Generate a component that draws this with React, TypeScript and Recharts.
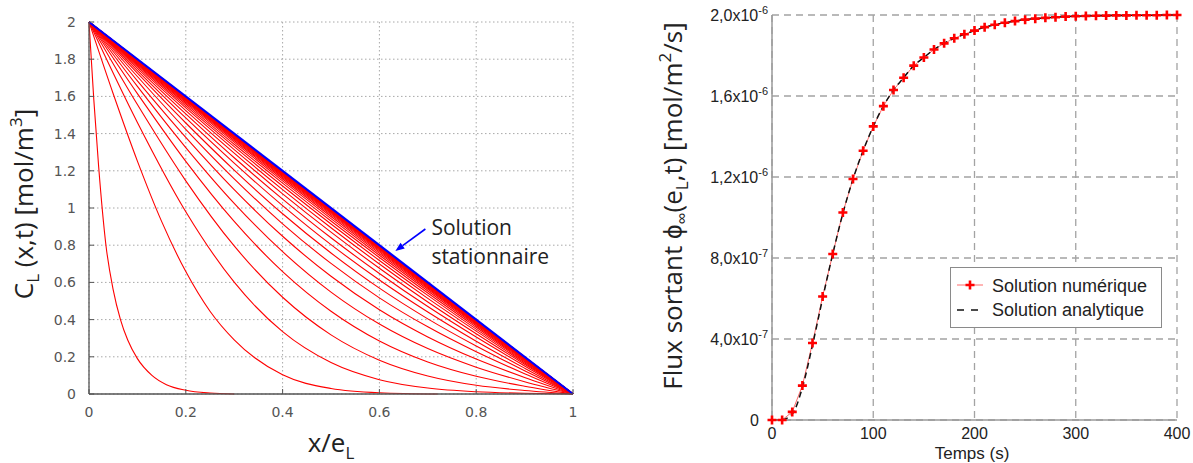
import React from "react";
import { CartesianGrid, Line, LineChart, ReferenceLine, XAxis, YAxis } from "recharts";

// ---- left panel: concentration profiles C_L(x,t) across the membrane ----
const xTicks = [0, 0.2, 0.4, 0.6, 0.8, 1];
const xTickLabels = ["0", "0.2", "0.4", "0.6", "0.8", "1"];
const cTicks = [0, 0.2, 0.4, 0.6, 0.8, 1, 1.2, 1.4, 1.6, 1.8, 2];
const cTickLabels = ["0", "0.2", "0.4", "0.6", "0.8", "1", "1.2", "1.4", "1.6", "1.8", "2"];

// first two profiles have their own x sampling (steep near the entry face)
const firstProfileX = [0, 0.01, 0.02, 0.035, 0.05, 0.065, 0.08, 0.1, 0.13, 0.16, 0.2, 0.25, 0.3];
const firstProfileC = [2, 1.58, 1.22, 0.8, 0.56, 0.4, 0.29, 0.19, 0.1, 0.05, 0.02, 0.005, 0];
const secondProfileX = [0, 0.05, 0.1, 0.15, 0.2, 0.25, 0.3, 0.4, 0.5, 0.6, 0.72];
const secondProfileC = [2, 1.614, 1.252, 0.928, 0.658, 0.445, 0.291, 0.103, 0.03, 0.007, 0];

// later profiles, all read at x = 0, 0.1, ... 1
const profileX = [0, 0.1, 0.2, 0.3, 0.4, 0.5, 0.6, 0.7, 0.8, 0.9, 1];
const laterProfiles = [
  [2, 1.46, 0.98, 0.601, 0.335, 0.169, 0.077, 0.032, 0.012, 0.004, 0],
  [2, 1.556, 1.146, 0.796, 0.52, 0.318, 0.182, 0.097, 0.047, 0.019, 0],
  [2, 1.615, 1.251, 0.928, 0.658, 0.445, 0.285, 0.172, 0.095, 0.042, 0],
  [2, 1.654, 1.325, 1.025, 0.765, 0.548, 0.376, 0.244, 0.144, 0.066, 0],
  [2, 1.684, 1.38, 1.099, 0.848, 0.633, 0.453, 0.307, 0.188, 0.089, 0],
  [2, 1.707, 1.423, 1.157, 0.915, 0.702, 0.517, 0.361, 0.227, 0.109, 0],
  [2, 1.725, 1.457, 1.204, 0.969, 0.758, 0.569, 0.404, 0.258, 0.125, 0],
  [2, 1.739, 1.484, 1.241, 1.013, 0.803, 0.613, 0.441, 0.284, 0.139, 0],
  [2, 1.751, 1.506, 1.27, 1.048, 0.84, 0.648, 0.47, 0.306, 0.151, 0],
  [2, 1.76, 1.524, 1.295, 1.076, 0.87, 0.676, 0.495, 0.324, 0.16, 0],
  [2, 1.767, 1.538, 1.314, 1.099, 0.894, 0.699, 0.514, 0.338, 0.167, 0],
  [2, 1.773, 1.549, 1.33, 1.118, 0.914, 0.718, 0.53, 0.349, 0.173, 0],
  [2, 1.778, 1.559, 1.343, 1.134, 0.93, 0.734, 0.543, 0.359, 0.178, 0],
  [2, 1.782, 1.567, 1.354, 1.146, 0.943, 0.746, 0.554, 0.367, 0.182, 0],
  [2, 1.786, 1.573, 1.363, 1.156, 0.954, 0.756, 0.563, 0.373, 0.186, 0],
  [2, 1.788, 1.578, 1.37, 1.164, 0.963, 0.764, 0.57, 0.378, 0.188, 0],
  [2, 1.791, 1.582, 1.375, 1.171, 0.97, 0.771, 0.575, 0.382, 0.191, 0],
  [2, 1.792, 1.585, 1.38, 1.176, 0.975, 0.776, 0.58, 0.385, 0.192, 0],
  [2, 1.794, 1.588, 1.384, 1.181, 0.98, 0.781, 0.584, 0.388, 0.194, 0],
  [2, 1.795, 1.59, 1.387, 1.184, 0.984, 0.784, 0.587, 0.39, 0.195, 0],
  [2, 1.796, 1.592, 1.389, 1.187, 0.987, 0.787, 0.589, 0.392, 0.196, 0],
  [2, 1.797, 1.594, 1.391, 1.19, 0.989, 0.79, 0.591, 0.394, 0.197, 0],
  [2, 1.797, 1.595, 1.393, 1.192, 0.991, 0.792, 0.593, 0.395, 0.197, 0],
  [2, 1.798, 1.596, 1.394, 1.193, 0.993, 0.793, 0.594, 0.396, 0.198, 0],
  [2, 1.798, 1.597, 1.395, 1.194, 0.994, 0.794, 0.595, 0.397, 0.198, 0],
  [2, 1.799, 1.597, 1.396, 1.196, 0.995, 0.796, 0.596, 0.397, 0.199, 0],
  [2, 1.799, 1.598, 1.397, 1.196, 0.996, 0.796, 0.597, 0.398, 0.199, 0],
  [2, 1.799, 1.598, 1.397, 1.197, 0.997, 0.797, 0.597, 0.398, 0.199, 0],
];
const steadyX = [0, 1];
const steadyC = [2, 0];
const arrowFrom = { x: 0.695, y: 0.887 };
const arrowTo = { x: 0.633, y: 0.769 };

// ---- right panel: outgoing flux vs time (values in 1e-6 mol/m2/s) ----
const times = [
  0, 10, 20, 30, 40, 50, 60, 70, 80, 90, 100, 110, 120, 130, 140, 150, 160, 170, 180, 190, 200,
  210, 220, 230, 240, 250, 260, 270, 280, 290, 300, 310, 320, 330, 340, 350, 360, 370, 380, 390, 400,
];
const fluxNumeric = [
  0, 0, 0.04, 0.17, 0.38, 0.61, 0.82, 1.025, 1.19, 1.33, 1.45, 1.55, 1.63, 1.69, 1.75, 1.79, 1.83,
  1.86, 1.885, 1.905, 1.923, 1.94, 1.952, 1.962, 1.97, 1.977, 1.982, 1.986, 1.989, 1.992, 1.994,
  1.995, 1.996, 1.997, 1.998, 1.998, 1.999, 1.999, 1.999, 2.0, 2.0,
];
const fluxAnalytic = [
  0, 0.002, 0.03, 0.16, 0.37, 0.6, 0.82, 1.02, 1.19, 1.33, 1.45, 1.55, 1.63, 1.69, 1.75, 1.79, 1.83,
  1.86, 1.885, 1.905, 1.923, 1.94, 1.952, 1.962, 1.97, 1.977, 1.982, 1.986, 1.989, 1.992, 1.994,
  1.995, 1.996, 1.997, 1.998, 1.998, 1.999, 1.999, 1.999, 2.0, 2.0,
];
const timeTicks = [0, 100, 200, 300, 400];
const fluxTicks = [0, 0.4, 0.8, 1.2, 1.6, 2.0];
const fluxTickMantissa = ["0", "4,0x10", "8,0x10", "1,2x10", "1,6x10", "2,0x10"];
const fluxTickExponent = ["", "-7", "-7", "-6", "-6", "-6"];

const zip = (xs: number[], ys: number[]) => xs.map((x, i) => ({ x, y: ys[i] }));

const profiles = [
  zip(firstProfileX, firstProfileC),
  zip(secondProfileX, secondProfileC),
  ...laterProfiles.map((p) => zip(profileX, p)),
];
const steady = zip(steadyX, steadyC);
const fluxRows = times.map((t, i) => ({ t, num: fluxNumeric[i], ana: fluxAnalytic[i] }));

const GNU = "'DejaVu Sans', sans-serif";
const ARIAL = "'Liberation Sans', Arial, sans-serif";
const TITLE = "'Open Sans', sans-serif";
const FRAME = "#555";

function LeftXTick(props: any) {
  const { x, y, payload } = props;
  const label = xTickLabels[xTicks.indexOf(payload.value)];
  return (
    <g>
      <line x1={x} x2={x} y1={y} y2={y - 5} stroke={FRAME} />
      <text x={x} y={y + 18} dy="0.35em" textAnchor="middle" fill="#555" fontSize={14} fontFamily={GNU}>
        {label}
      </text>
    </g>
  );
}

function LeftYTick(props: any) {
  const { x, y, payload } = props;
  const label = cTickLabels[cTicks.findIndex((v) => Math.abs(v - payload.value) < 1e-9)];
  return (
    <g>
      <line x1={x} x2={x + 5} y1={y} y2={y} stroke={FRAME} />
      <text x={x - 13} y={y} dy="0.35em" textAnchor="end" fill="#555" fontSize={14} fontFamily={GNU}>
        {label}
      </text>
    </g>
  );
}

function FluxYTick(props: any) {
  const { x, y, payload } = props;
  const i = fluxTicks.findIndex((v) => Math.abs(v - payload.value) < 1e-9);
  const exp = fluxTickExponent[i];
  return (
    <text x={exp ? x - 4 : x - 13} y={y} dy="0.35em" textAnchor="end" fill="#222" fontSize={16} fontFamily={ARIAL}>
      <tspan>{fluxTickMantissa[i]}</tspan>
      {exp && (
        <tspan dy={-7} fontSize={11}>
          {exp}
        </tspan>
      )}
    </text>
  );
}

function PlusDot(props: any) {
  const { cx, cy, index } = props;
  if (cx == null || cy == null) return <g key={index} />;
  const r = 4.5;
  return (
    <path
      key={index}
      d={`M${cx - r},${cy}H${cx + r}M${cx},${cy - r}V${cy + r}`}
      stroke="#ff0000"
      strokeWidth={2.6}
    />
  );
}

function ArrowNote(props: any) {
  const { x1, y1, x2, y2 } = props;
  const dx = x2 - x1;
  const dy = y2 - y1;
  const len = Math.hypot(dx, dy) || 1;
  const ux = dx / len;
  const uy = dy / len;
  const hl = 9;
  const hw = 3.6;
  const bx = x2 - ux * hl;
  const by = y2 - uy * hl;
  return (
    <g>
      <line x1={x1} y1={y1} x2={bx} y2={by} stroke="#0000ff" strokeWidth={1.6} />
      <polygon
        points={`${x2},${y2} ${bx - uy * hw},${by + ux * hw} ${bx + uy * hw},${by - ux * hw}`}
        fill="#0000ff"
      />
      <text x={x1 + 6} y={y1 + 6} fill="#222" fontSize={21} fontFamily={TITLE}>
        Solution
      </text>
      <text x={x1 + 6} y={y1 + 35} fill="#222" fontSize={21} fontFamily={TITLE}>
        stationnaire
      </text>
    </g>
  );
}

function ProfilesChart() {
  return (
    <LineChart width={600} height={463} margin={{ top: 22, right: 27, bottom: 0, left: 0 }}>
      <CartesianGrid stroke="#a8a8a8" strokeDasharray="1.5 2.5" />
      <XAxis
        type="number"
        dataKey="x"
        domain={[0, 1]}
        ticks={xTicks}
        interval={0}
        height={69}
        tickSize={0}
        tickMargin={0}
        tickLine={false}
        axisLine={{ stroke: FRAME, strokeWidth: 1.3 }}
        tick={(p: any) => <LeftXTick {...p} />}
      />
      <YAxis
        type="number"
        domain={[0, 2]}
        ticks={cTicks}
        interval={0}
        width={89}
        tickSize={0}
        tickMargin={0}
        tickLine={false}
        axisLine={{ stroke: FRAME, strokeWidth: 1.3 }}
        tick={(p: any) => <LeftYTick {...p} />}
      />
      <XAxis
        xAxisId="top"
        orientation="top"
        type="number"
        domain={[0, 1]}
        ticks={xTicks}
        interval={0}
        height={0}
        mirror
        tick={false}
        tickSize={5}
        tickLine={{ stroke: FRAME }}
        axisLine={{ stroke: FRAME, strokeWidth: 1.3 }}
      />
      <YAxis
        yAxisId="right"
        orientation="right"
        type="number"
        domain={[0, 2]}
        ticks={cTicks}
        interval={0}
        width={0}
        mirror
        tick={false}
        tickSize={5}
        tickLine={{ stroke: FRAME }}
        axisLine={{ stroke: FRAME, strokeWidth: 1.3 }}
      />
      {profiles.map((data, i) => (
        <Line
          key={`p${i}`}
          data={data}
          dataKey="y"
          type="monotone"
          stroke="#ff0000"
          strokeWidth={1.1}
          dot={false}
          activeDot={false}
          isAnimationActive={false}
        />
      ))}
      <Line
        data={steady}
        dataKey="y"
        type="linear"
        stroke="#0000ff"
        strokeWidth={2.2}
        dot={false}
        activeDot={false}
        isAnimationActive={false}
      />
      <ReferenceLine segment={[arrowFrom, arrowTo]} shape={(p: any) => <ArrowNote {...p} />} />
    </LineChart>
  );
}

function FluxChart() {
  return (
    <LineChart width={593} height={463} data={fluxRows} margin={{ top: 15, right: 16, bottom: 0, left: 0 }}>
      <CartesianGrid stroke="#a3a3a3" strokeDasharray="7 5" strokeWidth={1.3} />
      <XAxis
        dataKey="t"
        type="number"
        domain={[0, 400]}
        ticks={timeTicks}
        interval={0}
        height={43}
        tickLine={false}
        tickSize={6}
        tickMargin={2}
        axisLine={{ stroke: "#9a9a9a", strokeWidth: 1.5 }}
        tick={{ fill: "#222", fontSize: 16, fontFamily: ARIAL }}
      />
      <YAxis
        type="number"
        domain={[0, 2]}
        ticks={fluxTicks}
        interval={0}
        width={172}
        tickSize={0}
        tickMargin={0}
        tickLine={false}
        axisLine={{ stroke: "#9a9a9a", strokeWidth: 1.5 }}
        tick={(p: any) => <FluxYTick {...p} />}
      />
      <XAxis
        xAxisId="top"
        orientation="top"
        type="number"
        dataKey="t"
        domain={[0, 400]}
        height={0}
        mirror
        tick={false}
        tickLine={false}
        axisLine={{ stroke: "#9a9a9a", strokeWidth: 1.5 }}
      />
      <YAxis
        yAxisId="right"
        orientation="right"
        type="number"
        domain={[0, 2]}
        width={0}
        mirror
        tick={false}
        tickLine={false}
        axisLine={{ stroke: "#9a9a9a", strokeWidth: 1.5 }}
      />
      <Line
        dataKey="num"
        type="linear"
        stroke="#ff6a6a"
        strokeWidth={1}
        dot={(p: any) => <PlusDot {...p} />}
        activeDot={false}
        isAnimationActive={false}
      />
      <Line
        dataKey="ana"
        type="monotone"
        stroke="#111"
        strokeWidth={1.5}
        strokeDasharray="6 4"
        dot={false}
        activeDot={false}
        isAnimationActive={false}
      />
    </LineChart>
  );
}

function Overlay() {
  return (
    <svg width={1193} height={463} style={{ position: "absolute", left: 0, top: 0, pointerEvents: "none" }}>
      {/* left panel axis titles */}
      <text transform="translate(33,204) rotate(-90)" textAnchor="middle" fill="#222" fontSize={26} fontFamily={TITLE}>
        <tspan>C</tspan>
        <tspan fontSize={17} dy={6}>L</tspan>
        <tspan dy={-6}> (x,t) [mol/m</tspan>
        <tspan fontSize={17} dy={-11}>3</tspan>
        <tspan dy={11}>]</tspan>
      </text>
      <text x={331} y={452} textAnchor="middle" fill="#222" fontSize={26} fontFamily={TITLE}>
        <tspan>x/e</tspan>
        <tspan fontSize={17} dy={7}>L</tspan>
      </text>

      {/* right panel axis titles */}
      <text transform="translate(682,206) rotate(-90)" textAnchor="middle" fill="#222" fontSize={26} fontFamily={TITLE}>
        <tspan>Flux sortant ϕ</tspan>
        <tspan fontSize={17} dy={6}>∞</tspan>
        <tspan dy={-6}>(e</tspan>
        <tspan fontSize={17} dy={6}>L</tspan>
        <tspan dy={-6}>,t) [mol/m</tspan>
        <tspan fontSize={17} dy={-11}>2</tspan>
        <tspan dy={11}>/s]</tspan>
      </text>
      <text x={972} y={459} textAnchor="middle" fill="#222" fontSize={17} fontFamily={ARIAL}>
        Temps (s)
      </text>

      {/* legend */}
      <rect x={950.5} y={267.5} width={211} height={60} fill="#fff" stroke="#8a8a8a" strokeWidth={1} />
      <line x1={957} x2={983} y1={285} y2={285} stroke="#ff6a6a" strokeWidth={1} />
      <path d="M965.5,285H974.5M970,280.5V289.5" stroke="#ff0000" strokeWidth={2.6} />
      <text x={992} y={292} fill="#222" fontSize={18} fontFamily={ARIAL}>
        Solution numérique
      </text>
      <line x1={957} x2={978} y1={310} y2={310} stroke="#111" strokeWidth={1.5} strokeDasharray="7 7" />
      <text x={992} y={316} fill="#222" fontSize={18} fontFamily={ARIAL}>
        Solution analytique
      </text>
    </svg>
  );
}

export default function App() {
  return (
    <div style={{ position: "absolute", left: 0, top: 0, width: 1193, height: 463, background: "#fff" }}>
      <div style={{ position: "absolute", left: 0, top: 0 }}>
        <ProfilesChart />
      </div>
      <div style={{ position: "absolute", left: 600, top: 0 }}>
        <FluxChart />
      </div>
      <Overlay />
    </div>
  );
}
